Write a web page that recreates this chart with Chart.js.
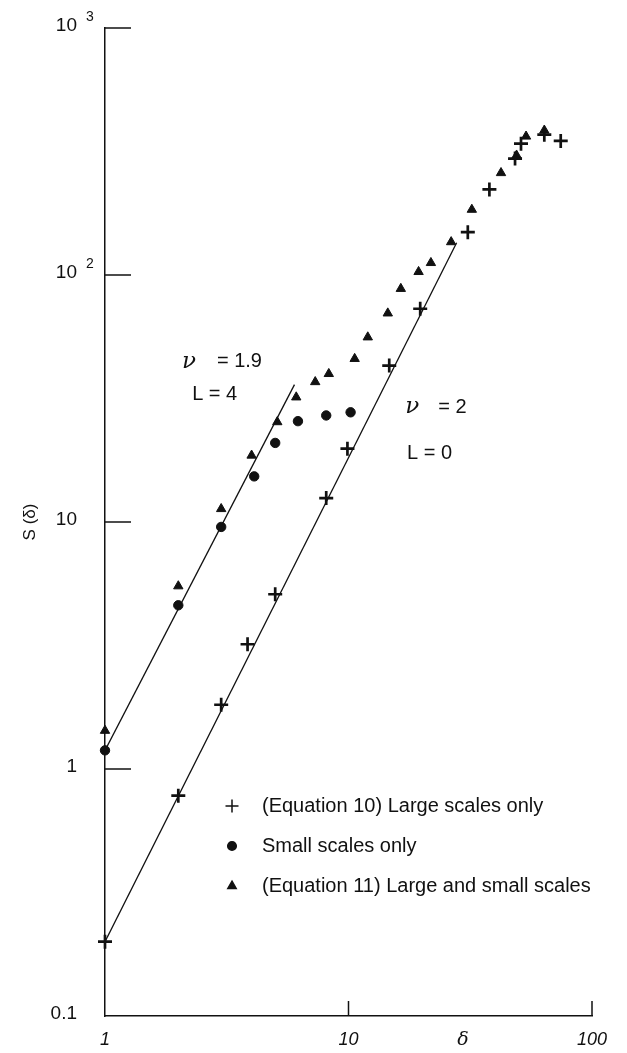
<!DOCTYPE html>
<html>
<head>
<meta charset="utf-8">
<script src="https://cdn.jsdelivr.net/npm/chart.js@4.4.1/dist/chart.umd.min.js"></script>
<style>
  html, body { margin: 0; padding: 0; background: #fff; }
  canvas { display: block; }
</style>
</head>
<body>
<canvas id="structure-chart" width="627" height="1053"></canvas>
<script>
// (Equation 10) large scales only
const largeDelta = [1, 2, 3, 3.85, 5, 8.1, 9.9, 14.7, 19.7, 30.9, 37.9, 48.3, 51.1, 63.7, 74.4];
const largeS = [0.2, 0.78, 1.82, 3.2, 5.1, 12.5, 19.8, 43, 73, 149, 222, 296, 340, 370, 349];

// small scales only
const smallDelta = [1, 2, 3, 4.1, 5, 6.2, 8.1, 10.2];
const smallS = [1.19, 4.6, 9.55, 15.3, 20.9, 25.6, 27.0, 27.8];

// (Equation 11) large and small scales
const bothDelta = [1, 2, 3, 4, 5.1, 6.1, 7.3, 8.3, 10.6, 12, 14.5, 16.4, 19.4, 21.8, 26.4, 32.1, 42.3, 49, 53.6, 63.7];
const bothS = [1.43, 5.5, 11.3, 18.6, 25.4, 32, 36.9, 39.8, 45.8, 56, 70, 88, 103, 112, 136, 184, 259, 305, 364, 385];

// fitted lines: nu = 1.9, L = 4 and nu = 2, L = 0
const fit19Delta = [1, 6];
const fit19S = [1.19, 36];
const fit2Delta = [1, 27.8];
const fit2S = [0.2, 135];

const xTicks = [1, 10, 100];
const xTickLabels = ["1", "10", "100"];
const yTicks = [0.1, 1, 10, 100, 1000];
const yTickLabels = [["0.1", ""], ["1", ""], ["10", ""], ["10", "2"], ["10", "3"]];

const legendLabels = [
  "(Equation 10) Large scales only",
  "Small scales only",
  "(Equation 11) Large and small scales",
];

const ink = "#111111";
const sans = "'Liberation Sans', Arial, sans-serif";
const serif = "'DejaVu Serif', serif";

const pts = (xs, ys) => xs.map((d, i) => ({ x: d, y: ys[i] }));

// axis ticks point inward, labels with superscripts, notes and the legend
const paperMarks = {
  id: "paperMarks",
  afterDraw(chart) {
    const { ctx, chartArea: a, scales: { x, y } } = chart;
    ctx.save();
    ctx.strokeStyle = ink;
    ctx.fillStyle = ink;
    ctx.lineWidth = 1.5;

    yTicks.forEach((v) => {
      if (v === yTicks[0]) return;
      const py = y.getPixelForValue(v);
      ctx.beginPath();
      ctx.moveTo(a.left, py);
      ctx.lineTo(a.left + 26, py);
      ctx.stroke();
    });
    xTicks.forEach((v) => {
      if (v === xTicks[0]) return;
      const px = x.getPixelForValue(v);
      ctx.beginPath();
      ctx.moveTo(px, a.bottom);
      ctx.lineTo(px, a.bottom - 15);
      ctx.stroke();
    });

    ctx.textBaseline = "middle";
    yTicks.forEach((v, i) => {
      const py = y.getPixelForValue(v);
      const [base, sup] = yTickLabels[i];
      ctx.font = "19px " + sans;
      ctx.textAlign = "right";
      ctx.fillText(base, 77, py - 2);
      if (sup) {
        ctx.font = "14px " + sans;
        ctx.textAlign = "left";
        ctx.fillText(sup, 86, py - 11);
      }
    });

    // axis titles
    ctx.font = "italic 19px " + serif;
    ctx.textAlign = "center";
    ctx.fillText("δ", x.getPixelForValue(29.5), a.bottom + 24);

    ctx.save();
    ctx.translate(30, y.getPixelForValue(10));
    ctx.rotate(-Math.PI / 2);
    ctx.font = "17px " + sans;
    ctx.fillText("S (δ)", 0, 0);
    ctx.restore();

    // slope notes
    const note = (nu, value, at, gap) => {
      const px = x.getPixelForValue(at[0]);
      const py = y.getPixelForValue(at[1]);
      ctx.textAlign = "left";
      ctx.font = "italic 23px " + serif;
      ctx.fillText(nu, px, py);
      ctx.font = "20px " + sans;
      ctx.fillText(value, px + gap, py);
    };
    note("ν", "= 1.9", [2.07, 44.5], 35);
    note("ν", "= 2", [17.1, 29.2], 33);
    ctx.font = "20px " + sans;
    ctx.textAlign = "left";
    ctx.fillText("L = 4", x.getPixelForValue(2.28), y.getPixelForValue(32.7));
    ctx.fillText("L = 0", x.getPixelForValue(17.4), y.getPixelForValue(18.9));

    // legend
    const styles = [
      { pointStyle: "cross", radius: 6.5, borderWidth: 2.6, rotation: 0 },
      { pointStyle: "circle", radius: 4.3, borderWidth: 1, rotation: 0 },
      { pointStyle: "triangle", radius: 4.8, borderWidth: 1, rotation: 0 },
    ];
    legendLabels.forEach((label, i) => {
      const ly = 806 + i * 40;
      Chart.helpers.drawPoint(ctx, styles[i], 232, ly);
      ctx.font = "20px " + sans;
      ctx.textAlign = "left";
      ctx.fillText(label, 262, ly);
    });
    ctx.restore();
  },
};

const canvas = document.querySelector("#structure-chart");
new Chart(canvas, {
  type: "scatter",
  data: {
    datasets: [
      {
        label: "nu = 1.9",
        data: pts(fit19Delta, fit19S),
        showLine: true,
        pointRadius: 0,
        borderColor: ink,
        borderWidth: 1.3,
      },
      {
        label: "nu = 2",
        data: pts(fit2Delta, fit2S),
        showLine: true,
        pointRadius: 0,
        borderColor: ink,
        borderWidth: 1.3,
      },
      {
        label: legendLabels[0],
        data: pts(largeDelta, largeS),
        pointStyle: "cross",
        pointRadius: 7,
        pointBorderWidth: 2.7,
        borderColor: ink,
        backgroundColor: ink,
        clip: false,
      },
      {
        label: legendLabels[1],
        data: pts(smallDelta, smallS),
        pointStyle: "circle",
        pointRadius: 4.7,
        pointBorderWidth: 1,
        borderColor: ink,
        backgroundColor: ink,
        clip: false,
      },
      {
        label: legendLabels[2],
        data: pts(bothDelta, bothS),
        pointStyle: "triangle",
        pointRadius: 5.4,
        pointBorderWidth: 1,
        borderColor: ink,
        backgroundColor: ink,
        clip: false,
      },
    ],
  },
  options: {
    responsive: false,
    animation: false,
    events: [],
    layout: { padding: { top: 28, right: 35, left: 0, bottom: 0 } },
    plugins: {
      legend: { display: false },
      tooltip: { enabled: false },
    },
    scales: {
      x: {
        type: "logarithmic",
        min: 1,
        max: 100,
        afterFit: (s) => { s.height = 37; },
        afterBuildTicks: (s) => { s.ticks = xTicks.map((v) => ({ value: v })); },
        grid: { display: false, drawTicks: false },
        border: { display: true, color: ink, width: 1.5 },
        ticks: {
          autoSkip: false,
          maxRotation: 0,
          padding: 13,
          color: ink,
          font: { family: sans, size: 18, style: "italic" },
          callback: (v) => {
            const i = xTicks.indexOf(v);
            return i >= 0 ? xTickLabels[i] : "";
          },
        },
      },
      y: {
        type: "logarithmic",
        min: 0.1,
        max: 1000,
        afterFit: (s) => { s.width = 105; },
        grid: { display: false, drawTicks: false },
        border: { display: true, color: ink, width: 1.5 },
        ticks: { display: false },
      },
    },
  },
  plugins: [paperMarks],
});
</script>
</body>
</html>
